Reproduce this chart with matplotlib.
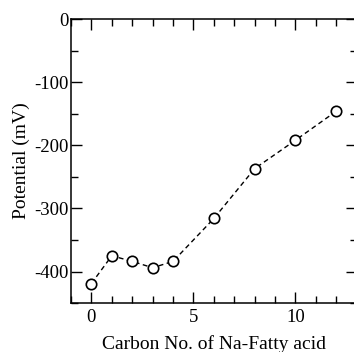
import matplotlib
matplotlib.use("Agg")
import matplotlib.pyplot as plt
from matplotlib.ticker import MultipleLocator

plt.rcParams['font.family'] = ['Liberation Serif', 'DejaVu Serif']
plt.rcParams['axes.unicode_minus'] = False

carbon = [0, 1, 2, 3, 4, 6, 8, 10, 12]
potential = [-419, -375, -384, -394, -384, -316, -237, -192, -146]

fig = plt.figure(figsize=(3.54, 3.52), dpi=100)
ax = fig.add_axes([0.2006, 0.139, 0.8070, 0.807])
ax.plot(carbon, potential, linestyle=(0, (3.5, 2.5)), color='black', linewidth=1.0,
        marker='o', markersize=7.5, markerfacecolor='white', markeredgecolor='black',
        markeredgewidth=1.2)
ax.set_xlim(-1, 13)
ax.set_ylim(-450, 0)
ax.xaxis.set_major_locator(MultipleLocator(5))
ax.xaxis.set_minor_locator(MultipleLocator(1))
ax.yaxis.set_major_locator(MultipleLocator(100))
ax.yaxis.set_minor_locator(MultipleLocator(50))
ax.tick_params(which='both', direction='in', top=True, right=True, labelsize=13.5, width=1.0)
ax.tick_params(which='major', length=8)
ax.tick_params(which='minor', length=5)
ax.tick_params(axis='x', which='major', pad=4)
ax.tick_params(axis='y', which='major', pad=2)
for s in ax.spines.values():
    s.set_linewidth(1.1)
ax.set_xlabel('Carbon No. of Na-Fatty acid', fontsize=14, labelpad=6.5)
ax.set_ylabel('Potential (mV)', fontsize=14, labelpad=2.5)
fig.savefig('out.png', dpi=100)
